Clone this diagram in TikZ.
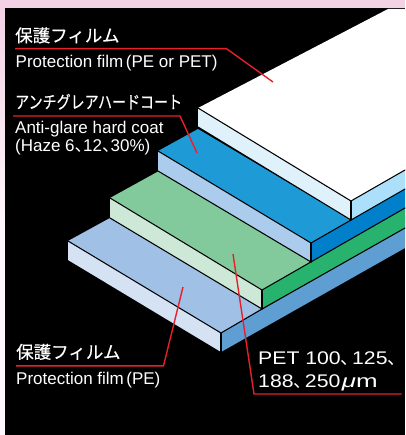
\documentclass[tikz,border=0pt]{standalone}
\usepackage{fontspec}
\setmainfont{Liberation Sans}
\newfontfamily\jp[FakeBold=0.35]{Noto Sans CJK JP}
\newfontfamily\jpplain{Noto Sans CJK JP}
\newfontfamily\wide[FakeStretch=1.16]{Liberation Sans}
\definecolor{redline}{HTML}{E6212A}
\definecolor{wside}{HTML}{DFF2FB}
\definecolor{wright}{HTML}{ABDFFA}
\definecolor{btop}{HTML}{1E9AD6}
\definecolor{bside}{HTML}{ABCCEC}
\definecolor{bright}{HTML}{0080CB}
\definecolor{gtop}{HTML}{82CA9C}
\definecolor{gside}{HTML}{CDE8D6}
\definecolor{gright}{HTML}{27B26E}
\definecolor{ltop}{HTML}{A0C1E5}
\definecolor{lside}{HTML}{D5E2F4}
\definecolor{lright}{HTML}{5F9ED3}
\definecolor{pinkbg}{HTML}{F3D2E5}
\definecolor{pinkpale}{HTML}{FDF6FA}
\tikzset{
  face/.style={fill=#1,draw=none},
  edge/.style={draw=black,line width=1.05pt,line cap=round},
  leader/.style={draw=redline,line width=1.4pt,line join=miter},
  jplabel/.style={text=white,inner sep=0pt,anchor=base west,font=\jp\fontsize{17.5}{17.5}\selectfont},
  enlabel/.style={text=white,inner sep=0pt,anchor=base west,font=\fontsize{17}{17.8}\selectfont,align=left},
  petlabel/.style={text=white,inner sep=0pt,anchor=base west,font=\wide\fontsize{18.3}{23.5}\selectfont,align=left}
}
\newcommand{\ten}{{\jpplain 、}\hspace{-0.5em}}
\newcommand{\tenw}{{\jpplain 、}\hspace{-0.38em}}
\newcommand{\lp}{\hspace{2.5pt}(}
\begin{document}
\begin{tikzpicture}[x=1pt,y=-1pt]
\useasboundingbox (0,0) rectangle (405,435);
\fill[pinkbg] (0,0) rectangle (405,8);
\fill[top color=pinkbg,bottom color=pinkpale] (0,8) rectangle (5,220);
\fill[pinkpale] (0,220) rectangle (5,435);
\fill[black] (5,8) rectangle (405,435);
% bottom layer
\fill[face=ltop] (68,241) -- (110,218) -- (262,309) -- (221,333) -- cycle;
\fill[face=lside] (68,241) -- (221,333) -- (221,352) -- (68,260) -- cycle;
\fill[face=lright] (221,333) -- (405,228) -- (405,248) -- (221,352) -- cycle;
% green layer
\fill[face=gtop] (110,198) -- (159,171) -- (311,262) -- (262,290) -- cycle;
\fill[face=gside] (110,198) -- (262,290) -- (262,309) -- (110,218) -- cycle;
\fill[face=gright] (262,290) -- (405,208) -- (405,228) -- (262,309) -- cycle;
% blue layer
\fill[face=btop] (158,151) -- (198,129) -- (351,220) -- (311,243) -- cycle;
\fill[face=bside] (158,151) -- (311,243) -- (311,262) -- (158,171) -- cycle;
\fill[face=bright] (311,243) -- (405,189) -- (405,208) -- (311,262) -- cycle;
% top layer
\fill[white] (198,108) -- (388,9) -- (405,9) -- (405,170) -- (351,201) -- cycle;
\fill[face=wside] (198,108) -- (351,201) -- (351,220) -- (198,127) -- cycle;
\fill[face=wright] (351,201) -- (405,170) -- (405,189) -- (351,220) -- cycle;
% edges
\draw[edge] (198,108) -- (351,201) -- (405,170);
\draw[edge] (351,201) -- (351,220);
\draw[edge] (198,127) -- (351,220);
\draw[edge] (158,151) -- (311,243) -- (405,189);
\draw[edge] (311,243) -- (311,262);
\draw[edge] (158,171) -- (311,262);
\draw[edge] (110,198) -- (262,290) -- (405,208);
\draw[edge] (262,290) -- (262,309);
\draw[edge] (110,218) -- (262,309) -- (405,228);
\draw[edge] (68,241) -- (221,333) -- (262,309);
\draw[edge] (221,333) -- (221,352);
% leaders
\coordinate (a0) at (15,48.7); \coordinate (a1) at (226.5,48.7); \coordinate (a2) at (273,82);
\coordinate (b0) at (13,116); \coordinate (b1) at (180,116); \coordinate (b2) at (197,153);
\coordinate (c0) at (16,365.8); \coordinate (c1) at (163.5,365.8); \coordinate (c2) at (183,287);
\coordinate (d0) at (233,254); \coordinate (d1) at (254,394); \coordinate (d2) at (401.5,394);
\draw[leader] (a0) -- (a1) -- (a2);
\draw[leader] (b0) -- (b1) -- (b2);
\draw[leader] (c0) -- (c1) -- (c2);
\draw[leader] (d0) -- (d1) -- (d2);
% labels
\node[jplabel] (t1) at (15,42) {保護フィルム};
\node[enlabel] (e1) at (15.5,67.7) {Protection film\lp PE or PET)};
\node[jplabel] (t2) at (15,108.5) {\scalebox{0.8}[1]{アンチグレアハードコート}};
\node[enlabel] (e2) at (15,151.8) {Anti-glare hard coat\\(Haze 6\ten 12\ten 30\%)};
\node[jplabel] (t3) at (16,358.5) {保護フィルム};
\node[enlabel] (e3) at (16,384) {Protection film\lp PE)};
\node[petlabel] (p1) at (258,387.5) {PET 100\tenw 125\tenw\\188\tenw 250\hspace{1.5pt}\scalebox{1.22}[1]{{\itshape μ}m}};
\end{tikzpicture}
\end{document}
